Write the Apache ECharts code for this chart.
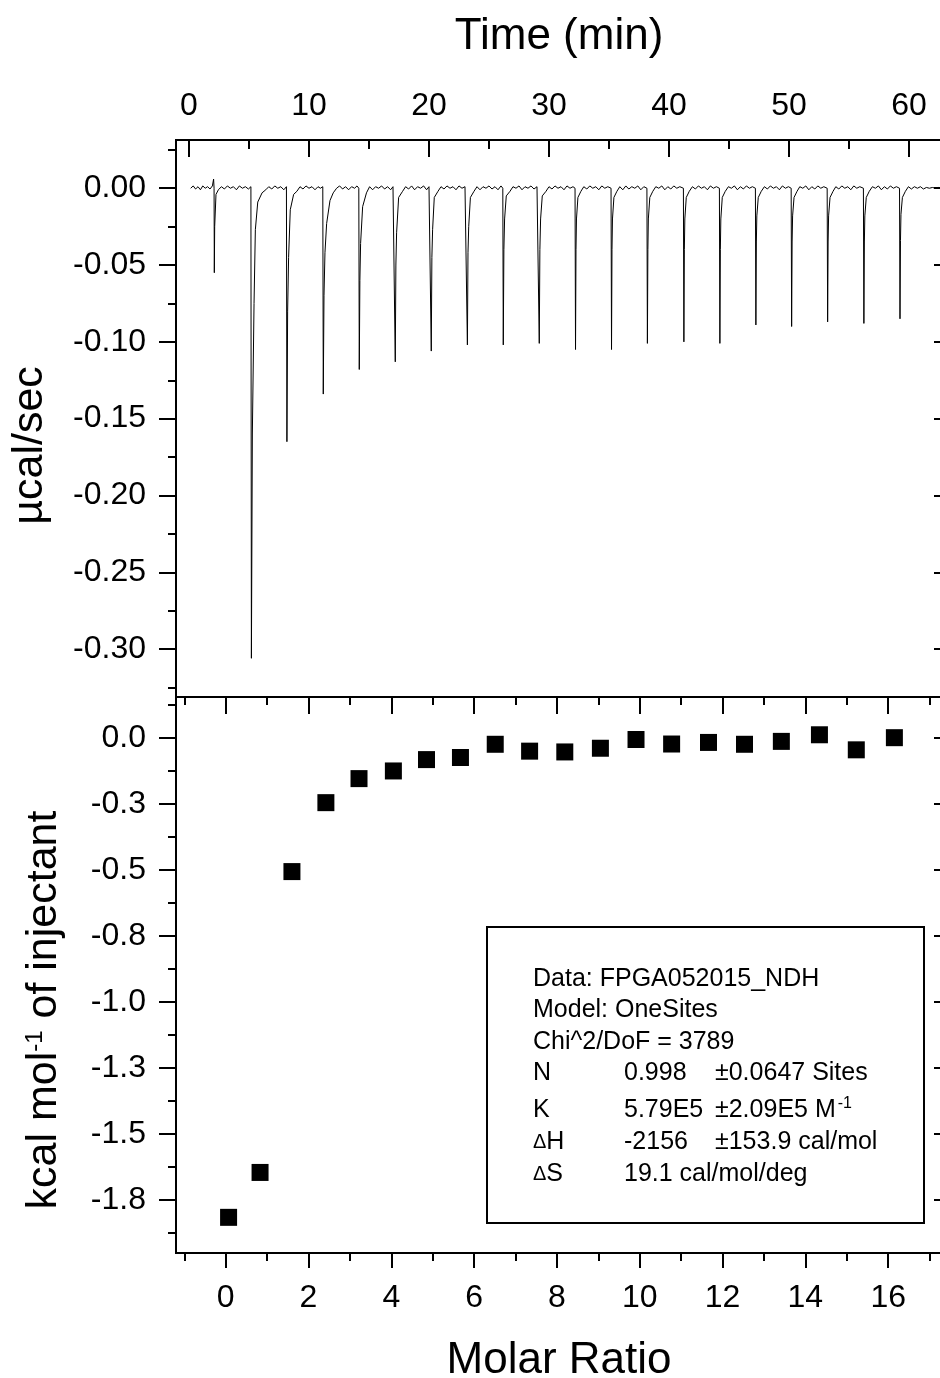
<!DOCTYPE html>
<html>
<head>
<meta charset="utf-8">
<script src="https://cdn.jsdelivr.net/npm/echarts@6/dist/echarts.min.js"></script>
<style>
html,body{margin:0;padding:0;background:#fff;}
#chart{width:940px;height:1378px;}
</style>
</head>
<body>
<div id="chart"></div>
<script>
// ---------------- DATA ----------------
// Top panel: raw heat-flow trace [time (min), power (µcal/sec)]
const heatFlow = [
  [0.14,0.000],[0.35,0.0015],[0.55,-0.0005],[0.75,0.001],[0.95,-0.001],[1.15,0.0015],[1.35,0.000],[1.55,0.001],[1.75,-0.0005],[1.95,0.0015],
  [2.05,0.006],[2.09,0.000],[2.11,-0.055],[2.14,-0.025],[2.25,-0.004],[2.45,-0.001],
  [2.7,0.001],[2.95,-0.0005],[3.2,0.0015],[3.45,0.000],[3.7,0.001],[3.95,-0.001],[4.2,0.0015],[4.45,0.000],[4.7,0.001],[4.95,-0.0005],[5.16,0.001],
  [5.20,-0.306],[5.28,-0.160],[5.42,-0.075],[5.53,-0.027],[5.73,-0.009],[6.09,-0.003],[6.40,-0.001],
  [6.65,0.001],[6.9,-0.0005],[7.15,0.0015],[7.4,0.000],[7.65,0.001],[7.9,-0.001],[8.12,0.001],
  [8.16,-0.165],[8.22,-0.080],[8.30,-0.045],[8.44,-0.014],[8.72,-0.004],[8.99,-0.002],
  [9.25,0.001],[9.5,-0.0005],[9.75,0.0015],[10.0,0.000],[10.25,0.001],[10.5,-0.001],[10.75,0.001],[10.95,0.000],[11.15,0.001],
  [11.19,-0.134],[11.25,-0.070],[11.33,-0.042],[11.47,-0.023],[11.75,-0.008],[12.02,-0.003],
  [12.3,0.000],[12.55,0.0015],[12.8,-0.0005],[13.05,0.001],[13.3,-0.001],[13.55,0.001],[13.8,0.000],[14.0,0.0015],[14.15,0.000],
  [14.19,-0.118],[14.24,-0.060],[14.30,-0.036],[14.47,-0.012],[14.79,-0.003],
  [15.05,0.001],[15.3,-0.001],[15.55,0.001],[15.8,0.000],[16.05,0.0015],[16.3,-0.0005],[16.55,0.001],[16.8,-0.001],[17.0,0.001],[17.15,0.000],
  [17.19,-0.113],[17.24,-0.050],[17.30,-0.029],[17.47,-0.006],[17.80,-0.002],
  [18.05,0.001],[18.3,-0.0005],[18.55,0.0015],[18.8,-0.001],[19.05,0.001],[19.3,0.000],[19.55,0.0015],[19.8,-0.001],[20.0,0.001],[20.15,0.000],
  [20.19,-0.106],[20.24,-0.045],[20.30,-0.027],[20.44,-0.006],[20.75,-0.002],
  [21.0,0.001],[21.25,-0.0005],[21.5,0.0015],[21.75,0.000],[22.0,0.001],[22.25,-0.001],[22.5,0.0015],[22.75,0.000],[23.0,0.001],[23.16,0.000],
  [23.20,-0.102],[23.25,-0.042],[23.31,-0.025],[23.45,-0.006],[23.75,-0.002],
  [24.0,0.001],[24.25,-0.001],[24.5,0.001],[24.75,0.000],[25.0,0.0015],[25.25,-0.0005],[25.5,0.001],[25.75,-0.001],[26.0,0.0015],[26.15,0.000],
  [26.19,-0.102],[26.24,-0.040],[26.30,-0.020],[26.44,-0.005],[26.75,-0.002],
  [27.0,0.001],[27.25,0.000],[27.5,0.0015],[27.75,-0.001],[28.0,0.001],[28.25,0.000],[28.5,0.0015],[28.75,-0.0005],[29.0,0.001],[29.15,0.000],
  [29.19,-0.101],[29.24,-0.040],[29.30,-0.020],[29.44,-0.005],[29.75,-0.002],
  [30.0,0.001],[30.25,-0.0005],[30.5,0.0015],[30.75,0.000],[31.0,0.001],[31.25,-0.001],[31.5,0.0015],[31.75,0.000],[32.0,0.001],[32.17,0.000],
  [32.21,-0.105],[32.25,-0.040],[32.29,-0.020],[32.41,-0.006],[32.66,-0.002],
  [32.9,0.001],[33.15,-0.0005],[33.4,0.0015],[33.65,0.000],[33.9,0.001],[34.15,-0.001],[34.4,0.0015],[34.65,0.000],[34.9,0.001],[35.17,0.000],
  [35.21,-0.105],[35.25,-0.040],[35.29,-0.020],[35.41,-0.006],[35.66,-0.002],
  [35.9,0.001],[36.15,-0.001],[36.4,0.0015],[36.65,-0.0005],[36.9,0.001],[37.15,0.000],[37.4,0.0015],[37.65,-0.001],[37.9,0.001],[38.16,0.000],
  [38.20,-0.101],[38.24,-0.040],[38.28,-0.020],[38.40,-0.006],[38.65,-0.002],
  [38.9,0.001],[39.15,0.000],[39.4,0.0015],[39.65,-0.001],[39.9,0.001],[40.15,-0.0005],[40.4,0.0015],[40.65,0.000],[40.9,0.001],[41.2,0.000],
  [41.24,-0.100],[41.28,-0.040],[41.32,-0.020],[41.44,-0.006],[41.69,-0.002],
  [41.95,0.001],[42.2,-0.0005],[42.45,0.0015],[42.7,0.000],[42.95,0.001],[43.2,-0.001],[43.45,0.0015],[43.7,0.000],[43.95,0.001],[44.2,0.000],
  [44.24,-0.101],[44.28,-0.040],[44.32,-0.020],[44.44,-0.006],[44.69,-0.002],
  [44.95,0.001],[45.2,0.000],[45.45,0.0015],[45.7,-0.001],[45.95,0.001],[46.2,-0.0005],[46.45,0.0015],[46.7,0.000],[46.95,0.001],[47.2,0.000],
  [47.24,-0.089],[47.28,-0.035],[47.32,-0.018],[47.44,-0.006],[47.69,-0.002],
  [47.95,0.001],[48.2,-0.0005],[48.45,0.0015],[48.7,0.000],[48.95,0.001],[49.2,-0.001],[49.45,0.0015],[49.7,0.000],[49.95,0.001],[50.18,0.000],
  [50.22,-0.090],[50.26,-0.035],[50.30,-0.018],[50.42,-0.006],[50.67,-0.002],
  [50.9,0.001],[51.15,0.000],[51.4,0.0015],[51.65,-0.001],[51.9,0.001],[52.15,-0.0005],[52.4,0.0015],[52.65,0.000],[52.9,0.001],[53.18,0.000],
  [53.22,-0.087],[53.26,-0.035],[53.30,-0.018],[53.42,-0.006],[53.67,-0.002],
  [53.9,0.001],[54.15,-0.0005],[54.4,0.0015],[54.65,0.000],[54.9,0.001],[55.15,-0.001],[55.4,0.0015],[55.65,0.000],[55.9,0.001],[56.2,0.000],
  [56.24,-0.088],[56.28,-0.035],[56.32,-0.018],[56.44,-0.006],[56.69,-0.002],
  [56.95,0.001],[57.2,0.000],[57.45,0.0015],[57.7,-0.001],[57.95,0.001],[58.2,-0.0005],[58.45,0.0015],[58.7,0.000],[58.95,0.001],[59.21,0.000],
  [59.25,-0.085],[59.29,-0.034],[59.33,-0.017],[59.45,-0.006],[59.70,-0.002],
  [59.95,0.001],[60.2,-0.0005],[60.45,0.001],[60.7,0.000],[60.95,0.001],[61.2,-0.0005],[61.45,0.0005],[61.7,0.000],[61.95,0.0005],[62.2,0.000],[62.45,0.0005],[62.75,0.000]
];

// Bottom panel: integrated heats
const molarRatio = [0.07, 0.83, 1.60, 2.42, 3.22, 4.05, 4.85, 5.67, 6.51, 7.34, 8.19, 9.05, 9.91, 10.77, 11.66, 12.53, 13.42, 14.34, 15.23, 16.15];
const heatPerMol = [-1.815, -1.645, -0.506, -0.245, -0.154, -0.125, -0.082, -0.074, -0.024, -0.050, -0.053, -0.039, -0.006, -0.023, -0.017, -0.024, -0.013, 0.012, -0.045, 0.001];

// Ticks and tick labels
const timeMajor = [0, 10, 20, 30, 40, 50, 60];
const timeMinor = [5, 15, 25, 35, 45, 55];
const powerMajor = [0, -0.05, -0.10, -0.15, -0.20, -0.25, -0.30];
const powerLabels = ['0.00', '-0.05', '-0.10', '-0.15', '-0.20', '-0.25', '-0.30'];
const powerMinor = [0.025, -0.025, -0.075, -0.125, -0.175, -0.225, -0.275, -0.325];
const ratioMajor = [0, 2, 4, 6, 8, 10, 12, 14, 16];
const ratioMinor = [-1, 1, 3, 5, 7, 9, 11, 13, 15, 17];
const heatMajor = [0, -0.25, -0.5, -0.75, -1.0, -1.25, -1.5, -1.75];
const heatLabels = ['0.0', '-0.3', '-0.5', '-0.8', '-1.0', '-1.3', '-1.5', '-1.8'];
const heatMinor = [0.125, -0.125, -0.375, -0.625, -0.875, -1.125, -1.375, -1.625, -1.875];

// Fit report text
const fitNames  = ['Data: FPGA052015_NDH', 'Model: OneSites', 'Chi^2/DoF = 3789', 'N', 'K', '{d|\u0394}H', '{d|\u0394}S'];
const fitValues = ['', '', '', '0.998', '5.79E5', '-2156', '19.1 cal/mol/deg'];
const fitErrors = ['', '', '', '\u00b10.0647 Sites', '\u00b12.09E5 M{s|-1}', '\u00b1153.9 cal/mol', ''];

// ---------------- LAYOUT ----------------
const FONT = '"Liberation Sans", Arial, Helvetica, sans-serif';
const TIME_MIN = -1.083, TIME_MAX = 62.75;
const POW_MIN = -0.3312, POW_MAX = 0.0314;
const RATIO_MIN = -1.20, RATIO_MAX = 17.30;
const HEAT_MIN = -1.95, HEAT_MAX = 0.155;

function pick(ticks, labels, v) {
  for (let i = 0; i < ticks.length; i++) if (Math.abs(ticks[i] - v) < 1e-9) return labels[i];
  return '';
}

function axis(o) {
  const a = {
    type: 'value', gridIndex: o.grid, position: o.pos, min: o.min, max: o.max,
    axisLine: { show: false, onZero: false },
    splitLine: { show: false },
    minorTick: { show: false },
    axisTick: { show: true, inside: !!o.inside, length: o.len, customValues: o.ticks,
                lineStyle: { color: '#000', width: 2 } },
    axisLabel: o.labels ? {
      show: true, customValues: o.ticks, margin: o.margin,
      formatter: v => pick(o.ticks, o.labels, v),
      fontSize: 32, fontFamily: FONT, color: '#000'
    } : { show: false }
  };
  return Object.assign(a, o.extra || {});
}

const chart = echarts.init(document.getElementById('chart'), null, { renderer: 'canvas' });

const gTop = 140, gMid = 697, gBot = 1253;
const fitLineY = [979, 1010, 1042, 1073, 1110, 1142, 1174];
const fitColX = [533, 624, 715];
const fitFont = 25;
const richFit = {
  d: { fontSize: 20, fontFamily: FONT, fill: '#000', color: '#000' },
  s: { fontSize: 16, fontFamily: FONT, fill: '#000', color: '#000', verticalAlign: 'top', padding: [0, 0, 12, 2] }
};

const graphics = [{
  type: 'rect', shape: { x: 487, y: 927, width: 437, height: 296 },
  style: { fill: '#fff', stroke: '#000', lineWidth: 2 }, z: 10
}];
fitNames.forEach((t, i) => {
  const cols = [t, fitValues[i], fitErrors[i]];
  cols.forEach((txt, c) => {
    if (!txt) return;
    graphics.push({
      type: 'text', x: fitColX[c], y: fitLineY[i], z: 11,
      style: { text: txt, fontSize: fitFont, fontFamily: FONT, fill: '#000',
               verticalAlign: 'middle', textVerticalAlign: 'middle', rich: richFit }
    });
  });
});

const option = {
  animation: false,
  backgroundColor: '#fff',
  grid: [
    { left: 176, top: gTop, width: 766, height: gMid - gTop, show: true, borderColor: '#000', borderWidth: 2,
      backgroundColor: 'transparent', containLabel: false, outerBoundsMode: 'none' },
    { left: 176, top: gMid, width: 766, height: gBot - gMid, show: true, borderColor: '#000', borderWidth: 2,
      backgroundColor: 'transparent', containLabel: false, outerBoundsMode: 'none' }
  ],
  xAxis: [
    axis({ grid: 0, pos: 'top', min: TIME_MIN, max: TIME_MAX, ticks: timeMajor, len: 17, inside: true,
           labels: timeMajor.map(String), margin: 18,
           extra: { name: 'Time (min)', nameLocation: 'middle', nameGap: 81,
                    nameTextStyle: { fontSize: 44, fontFamily: FONT, color: '#000' } } }),
    axis({ grid: 0, pos: 'top', min: TIME_MIN, max: TIME_MAX, ticks: timeMinor, len: 9, inside: true }),
    axis({ grid: 1, pos: 'bottom', min: RATIO_MIN, max: RATIO_MAX, ticks: ratioMajor, len: 15, inside: false,
           labels: ratioMajor.map(String), margin: 29,
           extra: { name: 'Molar Ratio', nameLocation: 'middle', nameGap: 86,
                    nameTextStyle: { fontSize: 44, fontFamily: FONT, color: '#000' } } }),
    axis({ grid: 1, pos: 'bottom', min: RATIO_MIN, max: RATIO_MAX, ticks: ratioMinor, len: 8, inside: false }),
    axis({ grid: 1, pos: 'top', min: RATIO_MIN, max: RATIO_MAX, ticks: ratioMajor, len: 17, inside: true }),
    axis({ grid: 1, pos: 'top', min: RATIO_MIN, max: RATIO_MAX, ticks: ratioMinor, len: 8, inside: true })
  ],
  yAxis: [
    axis({ grid: 0, pos: 'left', min: POW_MIN, max: POW_MAX, ticks: powerMajor, len: 17, inside: false,
           labels: powerLabels, margin: 30,
           extra: { name: '\u00b5cal/sec', nameLocation: 'middle', nameGap: 124,
                    nameTextStyle: { fontSize: 43, fontFamily: FONT, color: '#000', padding: [0, 54, 0, 0] } } }),
    axis({ grid: 0, pos: 'left', min: POW_MIN, max: POW_MAX, ticks: powerMinor, len: 8, inside: false }),
    axis({ grid: 0, pos: 'right', min: POW_MIN, max: POW_MAX, ticks: powerMajor, len: 8, inside: true }),
    axis({ grid: 1, pos: 'left', min: HEAT_MIN, max: HEAT_MAX, ticks: heatMajor, len: 17, inside: false,
           labels: heatLabels, margin: 30,
           extra: { name: 'kcal mol{s|-1} of injectant', nameLocation: 'middle', nameGap: 110,
                    nameTextStyle: { fontSize: 43, fontFamily: FONT, color: '#000', padding: [0, 70, 0, 0],
                                     rich: { s: { fontSize: 24, fontFamily: FONT, color: '#000', verticalAlign: 'top' } } } } }),
    axis({ grid: 1, pos: 'left', min: HEAT_MIN, max: HEAT_MAX, ticks: heatMinor, len: 8, inside: false }),
    axis({ grid: 1, pos: 'right', min: HEAT_MIN, max: HEAT_MAX, ticks: heatMajor, len: 8, inside: true })
  ],
  series: [
    { type: 'line', xAxisIndex: 0, yAxisIndex: 0, data: heatFlow, showSymbol: false, symbol: 'none',
      lineStyle: { color: '#000', width: 1 }, silent: true, clip: true },
    { type: 'scatter', xAxisIndex: 2, yAxisIndex: 3, data: molarRatio.map((x, i) => [x, heatPerMol[i]]),
      symbol: 'rect', symbolSize: 17, itemStyle: { color: '#000', opacity: 1 }, silent: true }
  ],
  graphic: graphics
};
chart.setOption(option);
</script>
</body>
</html>
